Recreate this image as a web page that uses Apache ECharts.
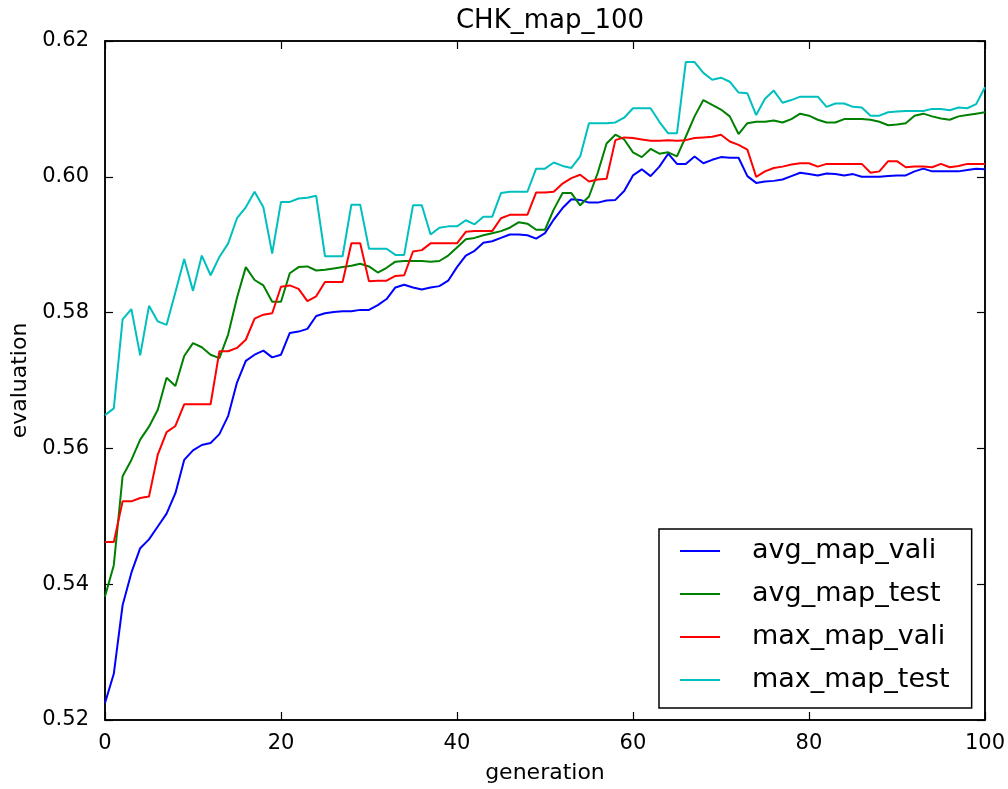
<!DOCTYPE html>
<html>
<head>
<meta charset="utf-8">
<script src="https://cdn.jsdelivr.net/npm/echarts@6/dist/echarts.min.js"></script>
<style>
  html, body { margin: 0; padding: 0; background: #fff; }
  #chart { width: 1008px; height: 789px; }
</style>
</head>
<body>
<div id="chart"></div>
<script type="text/javascript">

// values, one per generation 0..100
var avgMapVali = [
  0.5225, 0.5268, 0.5369, 0.5417, 0.5453, 0.5466, 0.5485, 0.5504, 0.5534, 0.5583,
  0.5597, 0.5605, 0.5608, 0.5621, 0.5648, 0.5697, 0.5729, 0.5738, 0.5744, 0.5734,
  0.5738, 0.5770, 0.5772, 0.5776, 0.5795, 0.5799, 0.5801, 0.5802, 0.5802, 0.5804,
  0.5804, 0.5811, 0.5820, 0.5837, 0.5841, 0.5837, 0.5834, 0.5837, 0.5839, 0.5847,
  0.5867, 0.5884, 0.5891, 0.5903, 0.5905, 0.5910, 0.5915, 0.5915, 0.5914, 0.5909,
  0.5917, 0.5937, 0.5954, 0.5967, 0.5966, 0.5962, 0.5962, 0.5965, 0.5966, 0.5979,
  0.6002, 0.6011, 0.6001, 0.6015, 0.6034, 0.6019, 0.6019, 0.6030, 0.6020, 0.6025,
  0.6029, 0.6028, 0.6028, 0.6001, 0.5991, 0.5993, 0.5994, 0.5996, 0.6001, 0.6006,
  0.6004, 0.6002, 0.6005, 0.6004, 0.6002, 0.6004, 0.6000, 0.6000, 0.6000, 0.6001,
  0.6002, 0.6002, 0.6008, 0.6012, 0.6008, 0.6008, 0.6008, 0.6008, 0.6010, 0.6012,
  0.6011
];
var avgMapTest = [
  0.5382, 0.5428, 0.5559, 0.5583, 0.5613, 0.5632, 0.5657, 0.5704, 0.5692, 0.5736,
  0.5755, 0.5749, 0.5738, 0.5733, 0.5768, 0.5822, 0.5867, 0.5848, 0.5840, 0.5816,
  0.5816, 0.5858, 0.5867, 0.5868, 0.5862, 0.5863, 0.5865, 0.5867, 0.5869, 0.5872,
  0.5868, 0.5859, 0.5866, 0.5875, 0.5876, 0.5876, 0.5876, 0.5875, 0.5876, 0.5884,
  0.5896, 0.5908, 0.5910, 0.5914, 0.5917, 0.5920, 0.5925, 0.5933, 0.5931, 0.5922,
  0.5922, 0.5952, 0.5976, 0.5976, 0.5958, 0.5971, 0.6006, 0.6049, 0.6062, 0.6055,
  0.6036, 0.6029, 0.6041, 0.6034, 0.6036, 0.6030, 0.6059, 0.6089, 0.6113, 0.6106,
  0.6099, 0.6089, 0.6063, 0.6079, 0.6081, 0.6081, 0.6083, 0.6080, 0.6085, 0.6093,
  0.6090, 0.6084, 0.6080, 0.6080, 0.6085, 0.6085, 0.6085, 0.6084, 0.6081, 0.6076,
  0.6077, 0.6079, 0.6090, 0.6093, 0.6089, 0.6086, 0.6084, 0.6089, 0.6091, 0.6093,
  0.6095
];
var maxMapVali = [
  0.5462, 0.5462, 0.5522, 0.5522, 0.5527, 0.5529, 0.5591, 0.5624, 0.5633, 0.5665,
  0.5665, 0.5665, 0.5665, 0.5743, 0.5743, 0.5748, 0.5760, 0.5791, 0.5797, 0.5799,
  0.5838, 0.5840, 0.5835, 0.5817, 0.5824, 0.5845, 0.5845, 0.5845, 0.5902, 0.5902,
  0.5846, 0.5847, 0.5847, 0.5854, 0.5855, 0.5890, 0.5892, 0.5902, 0.5902, 0.5902,
  0.5902, 0.5919, 0.5920, 0.5920, 0.5920, 0.5939, 0.5944, 0.5944, 0.5944, 0.5977,
  0.5977, 0.5978, 0.5990, 0.5998, 0.6003, 0.5993, 0.5996, 0.5997, 0.6054, 0.6058,
  0.6057, 0.6055, 0.6053, 0.6053, 0.6054, 0.6053, 0.6054, 0.6057, 0.6058, 0.6059,
  0.6062, 0.6052, 0.6047, 0.6040, 0.6000, 0.6008, 0.6013, 0.6015, 0.6018, 0.6020,
  0.6020, 0.6015, 0.6019, 0.6019, 0.6019, 0.6019, 0.6019, 0.6006, 0.6008, 0.6023,
  0.6023, 0.6014, 0.6015, 0.6015, 0.6014, 0.6019, 0.6014, 0.6016, 0.6019, 0.6019,
  0.6019
];
var maxMapTest = [
  0.5649, 0.5659, 0.5790, 0.5805, 0.5737, 0.5810, 0.5787, 0.5782, 0.5830, 0.5879,
  0.5832, 0.5884, 0.5855, 0.5882, 0.5902, 0.5939, 0.5955, 0.5978, 0.5955, 0.5887,
  0.5963, 0.5963, 0.5968, 0.5969, 0.5972, 0.5883, 0.5883, 0.5883, 0.5959, 0.5959,
  0.5894, 0.5894, 0.5894, 0.5885, 0.5885, 0.5958, 0.5958, 0.5915, 0.5925, 0.5927,
  0.5927, 0.5936, 0.5930, 0.5941, 0.5941, 0.5976, 0.5978, 0.5978, 0.5978, 0.6012,
  0.6012, 0.6021, 0.6016, 0.6013, 0.6030, 0.6079, 0.6079, 0.6079, 0.6080, 0.6087,
  0.6101, 0.6101, 0.6101, 0.6081, 0.6064, 0.6064, 0.6169, 0.6169, 0.6153, 0.6143,
  0.6146, 0.6140, 0.6124, 0.6123, 0.6091, 0.6115, 0.6127, 0.6109, 0.6113, 0.6118,
  0.6118, 0.6118, 0.6103, 0.6108, 0.6108, 0.6103, 0.6102, 0.6090, 0.6090, 0.6095,
  0.6096, 0.6097, 0.6097, 0.6097, 0.6100, 0.6100, 0.6098, 0.6102, 0.6101, 0.6107,
  0.6132
];

var seriesNames = ['avg_map_vali', 'avg_map_test', 'max_map_vali', 'max_map_test'];
var seriesColors = ['#0000ff', '#008000', '#ff0000', '#00bfbf'];
var seriesData = [avgMapVali, avgMapTest, maxMapVali, maxMapTest];

var xTicks = { min: 0, max: 100, interval: 20 };
var yTicks = { min: 0.52, max: 0.62, interval: 0.02 };

var font = 'DejaVu Sans';

function pairs(arr) {
	var out = [];
	for (var i = 0; i < arr.length; i++) {
		out.push([i, arr[i]]);
	}
	return out;
}

var axisLineStyle = { show: true, onZero: false, lineStyle: { color: '#000', width: 1.5 } };
var tickStyle = { show: true, inside: true, length: 8, lineStyle: { color: '#000', width: 1.2 } };

var series = [];
for (var k = 0; k < seriesNames.length; k++) {
	series.push({
		name: seriesNames[k],
		type: 'line',
		data: pairs(seriesData[k]),
		showSymbol: false,
		symbol: 'none',
		animation: false,
		lineStyle: { color: seriesColors[k], width: 2 },
		itemStyle: { color: seriesColors[k] },
		z: 2 + k
	});
}

var option = {
	backgroundColor: '#fff',
	animation: false,
	title: {
		text: 'CHK_map_100',
		left: 545,
		textAlign: 'center',
		top: 3,
		textStyle: { fontFamily: font, fontSize: 26, fontWeight: 'normal', color: '#000' }
	},
	// grid border gives the full black frame
	grid: { left: 105, right: 23, top: 41, bottom: 66, containLabel: false, show: true, borderColor: '#000', borderWidth: 1.5, backgroundColor: 'transparent' },
	legend: {
		orient: 'vertical',
		left: 659,
		top: 529,
		data: seriesNames,
		icon: 'rect',
		itemWidth: 40,
		itemHeight: 2,
		itemGap: 13,
		padding: [7, 22, 13, 21],
		borderColor: '#000',
		borderWidth: 1.5,
		backgroundColor: '#fff',
		textStyle: { fontFamily: font, fontSize: 27, lineHeight: 30, color: '#000', padding: [0, 0, 0, 27] }
	},
	xAxis: [{
		type: 'value',
		min: xTicks.min, max: xTicks.max, interval: xTicks.interval,
		name: 'generation',
		nameLocation: 'middle',
		nameGap: 42,
		nameTextStyle: { fontFamily: font, fontSize: 22, color: '#000' },
		axisLine: axisLineStyle,
		axisTick: tickStyle,
		splitLine: { show: false },
		axisLabel: { fontFamily: font, fontSize: 21, color: '#000', margin: 13 }
	}, {
		type: 'value',
		position: 'top',
		min: xTicks.min, max: xTicks.max, interval: xTicks.interval,
		axisLine: axisLineStyle,
		axisTick: tickStyle,
		splitLine: { show: false },
		axisLabel: { show: false }
	}],
	yAxis: [{
		type: 'value',
		min: yTicks.min, max: yTicks.max, interval: yTicks.interval,
		name: 'evaluation',
		nameLocation: 'middle',
		nameGap: 72,
		nameTextStyle: { fontFamily: font, fontSize: 22, color: '#000' },
		axisLine: axisLineStyle,
		axisTick: tickStyle,
		splitLine: { show: false },
		axisLabel: {
			fontFamily: font, fontSize: 21, color: '#000', margin: 16,
			formatter: function (v) { return v.toFixed(2); }
		}
	}, {
		type: 'value',
		position: 'right',
		min: yTicks.min, max: yTicks.max, interval: yTicks.interval,
		axisLine: axisLineStyle,
		axisTick: tickStyle,
		splitLine: { show: false },
		axisLabel: { show: false }
	}],
	series: series
};

var chart = echarts.init(document.getElementById('chart'), null, { renderer: 'canvas' });
chart.setOption(option);
</script>
</body>
</html>
